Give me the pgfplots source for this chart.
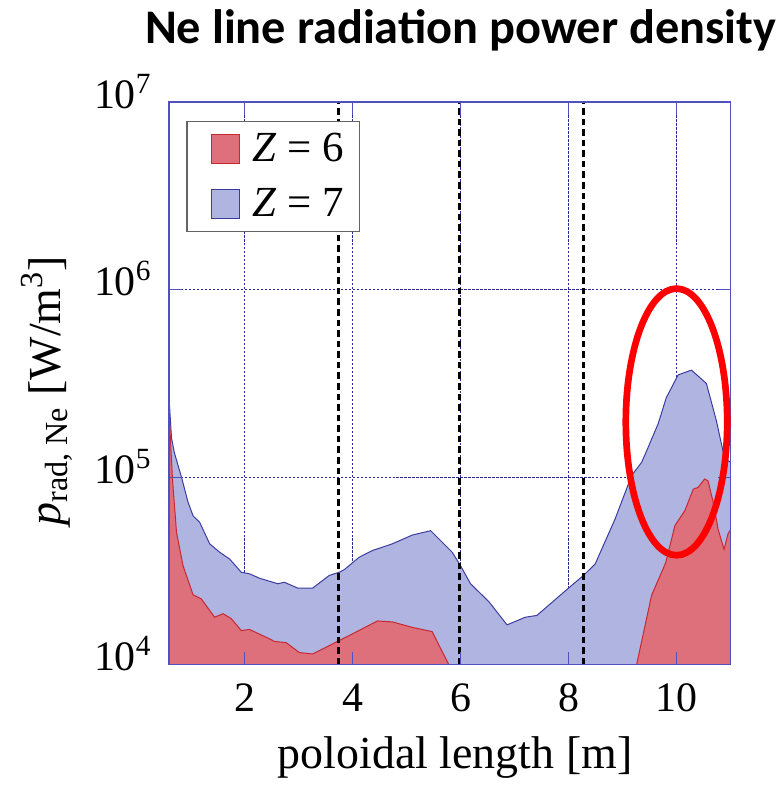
\documentclass[border=0pt]{standalone}
\usepackage{fontspec}
\setmainfont{Liberation Serif}
\newfontfamily\titlefont{Carlito}
\usepackage{pgfplots}
\pgfplotsset{compat=1.18}
\definecolor{bluefill}{RGB}{176,180,225}
\definecolor{blueedge}{RGB}{60,60,160}
\definecolor{redfill}{RGB}{221,112,122}
\definecolor{rededge}{RGB}{200,40,50}
\definecolor{gridc}{RGB}{40,40,150}
\definecolor{framec}{RGB}{80,80,190}
\begin{document}
\begin{tikzpicture}
\begin{axis}[
  width=281.35pt, height=281.85pt, scale only axis,
  xmin=0.6, xmax=11, ymin=1e4, ymax=1e7, ymode=log,
  xtick={2,4,6,8,10}, ytick={1e4,1e5,1e6,1e7},
  yminorticks=false, xminorticks=false,
  grid=major,
  grid style={gridc, line width=0.5pt, dash pattern=on 1.2pt off 0.8pt},
  major tick length=0pt,
  xticklabels={}, yticklabels={},
  axis line style={draw=none},
  reverse legend,
  legend style={at={(axis description cs:0.031,0.967)}, anchor=north west,
    draw={rgb,255:red,100;green,100;blue,100}, line width=0.6pt, fill=white,
    font=\fontsize{21.5}{24}\selectfont, inner xsep=6pt, inner ysep=4pt,
    row sep=8pt, cells={anchor=west}},
  legend image code/.code={\path (0pt,0pt) (24.2pt,0pt);\fill[#1] (5.8pt,-7.25pt) rectangle (20.3pt,7.25pt);},
]
% Z = 7
\addplot[fill=bluefill, draw=blueedge, line width=0.5pt] coordinates {
(0.6,100) (0.6,269000) (0.647,162000) (0.70,135000) (0.832,100000) (0.95,74100)
(1.046,62200) (1.169,57400) (1.354,44100) (1.538,39800) (1.723,36600)
(1.939,31100) (2.092,30500) (2.277,28900) (2.615,27000) (2.738,27500)
(2.984,25600) (3.261,25600) (3.569,29900) (3.754,31100) (3.846,32100)
(4.123,37400) (4.369,40600) (4.738,44100) (5.107,49100) (5.447,51800)
(5.600,46800) (5.845,39800) (6.0,33700) (6.185,27000) (6.523,21700)
(6.861,16300) (7.2,17900) (7.414,18300) (8.0,25600) (8.277,29900)
(8.493,34400) (8.862,59800) (9.169,102000) (9.354,120000) (9.446,138000)
(9.661,193000) (9.81,265000) (10.03,351000) (10.276,372000) (10.553,316000)
(10.738,200000) (10.89,126000) (11.0,120000) (11.0,100)
} \closedcycle;
\addlegendentry{\textit{Z} = 7}
% Z = 6
\addplot[fill=redfill, draw=rededge, line width=0.5pt] coordinates {
(0.6,100) (0.6,200000) (0.615,188000) (0.665,97500) (0.74,50800) (0.861,33700)
(1.046,23600) (1.2,22400) (1.446,17900) (1.6,18700) (1.754,17600)
(1.939,15200) (2.092,15400) (2.4,14000) (2.554,13300) (2.77,13100)
(3.015,11600) (3.261,11400) (3.63,12900) (4.0,14600) (4.461,17100)
(4.738,16900) (5.107,15800) (5.476,15000) (5.6,12700) (5.784,10000)
(5.85,8000) (9.2,8000) (9.261,10000) (9.538,23400) (9.80,35000)
(9.97,55100) (10.154,66200) (10.31,86300) (10.40,88100) (10.52,97700)
(10.584,95500) (10.68,73300) (10.77,52800) (10.88,41200) (10.954,49800)
(11.0,52500) (11.0,100)
} \closedcycle;
\addlegendentry{\textit{Z} = 6}
\addplot[forget plot, black, line width=1.5pt, dash pattern=on 3.3pt off 2pt] coordinates {(3.735,1e4) (3.735,1e7)};
\addplot[forget plot, black, line width=1.5pt, dash pattern=on 3.3pt off 2pt] coordinates {(5.99,1e4) (5.99,1e7)};
\addplot[forget plot, black, line width=1.5pt, dash pattern=on 3.3pt off 2pt] coordinates {(8.28,1e4) (8.28,1e7)};
\coordinate (ell) at (axis cs:10,1.97e5);
\end{axis}
\begin{axis}[
  width=281.35pt, height=281.85pt, scale only axis,
  xmin=0.6, xmax=11, ymin=1e4, ymax=1e7, ymode=log,
  xtick={2,4,6,8,10}, ytick={1e4,1e5,1e6,1e7},
  yminorticks=false, xminorticks=false,
  tick align=inside, major tick length=6.5pt,
  tick style={framec, line width=0.6pt},
  axis line style={framec, line width=0.6pt},
  xticklabel style={font=\fontsize{21}{24}\selectfont, anchor=base, inner sep=0pt, yshift=-23.65pt,
    /pgf/number format/assume math mode=true},
  yticklabels={10\textsuperscript{4},10\textsuperscript{5},10\textsuperscript{6},10\textsuperscript{7}},
  yticklabel style={font=\fontsize{21}{24}\selectfont, anchor=base east, inner sep=0pt, xshift=-8.5pt, yshift=-3pt},
]
\end{axis}
\draw[red, line width=3.35pt] (ell) ellipse [x radius=25.4pt, y radius=66.8pt];
\node[anchor=base, font=\fontsize{23}{26}\selectfont] at ([shift={(143.35pt,-52pt)}]current axis.south west) {poloidal length [m]};
\node[rotate=90, anchor=base, font=\fontsize{23}{26}\selectfont] at ([shift={(-54.5pt,137.25pt)}]current axis.south west) {\textit{p}\textsubscript{rad, Ne} [W/m\textsuperscript{3}]};
\node[anchor=base, font=\titlefont\bfseries\fontsize{24.2}{28}\selectfont] at ([shift={(146.1pt,311pt)}]current axis.south west) {Ne line radiation power density};
\path ([shift={(-84.65pt,-57pt)}]current axis.south west) rectangle ++(392.5pt,390pt);
\end{tikzpicture}
\end{document}
